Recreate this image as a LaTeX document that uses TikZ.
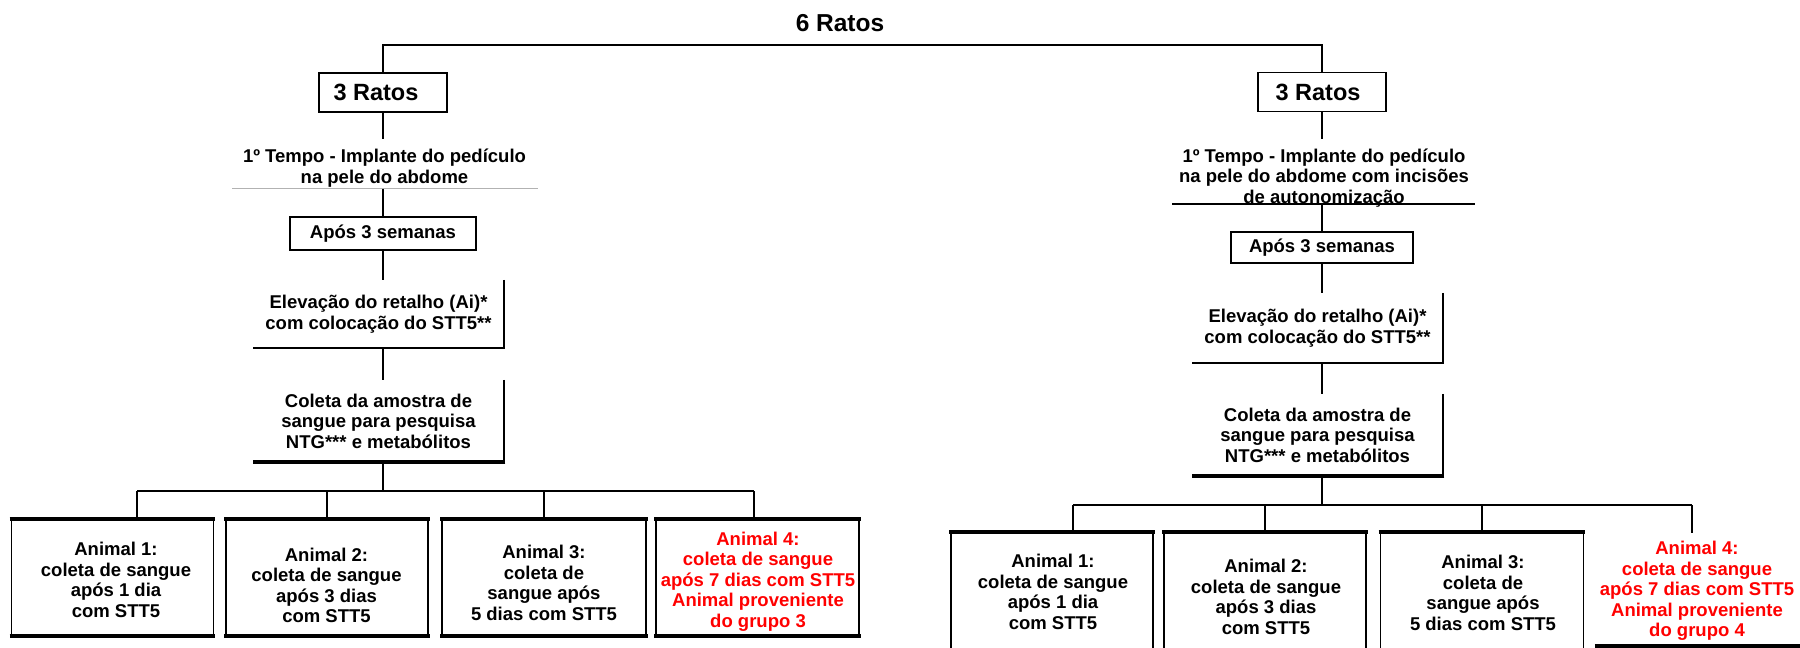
\documentclass[tikz,border=0pt]{standalone}
\usepackage{fontspec}
\setmainfont{Liberation Sans}
\begin{document}
\begin{tikzpicture}[x=1bp,y=-1bp,
  txt/.style={font=\fontsize{18.5bp}{20.5bp}\selectfont\bfseries, inner sep=0pt, align=center},
  big/.style={font=\fontsize{24.5bp}{26bp}\selectfont\bfseries, inner sep=0pt},
  ratbox/.style={draw, line width=1.8bp, inner sep=0pt, minimum width=128bp, minimum height=39bp, font=\fontsize{23.5bp}{25bp}\selectfont\bfseries},
  aposbox/.style={txt, draw, line width=1.8bp},
  shadowframe/.style={txt, minimum width=251bp},
  animbox/.style={draw, line width=1.8bp, minimum width=202bp, minimum height=115bp, inner sep=0pt},
  conn/.style={line width=1.9bp},
  heavy/.style={line width=3.5bp, shorten <=-0.9bp, shorten >=-0.9bp},
  edgetwo/.style={line width=2.2bp},
  redtxt/.style={txt, text=red},
  thinrule/.style={line width=1bp, draw=black!30},
]
\fill[white] (0,0) rectangle (1800,648);
\useasboundingbox (0,0) rectangle (1800,648);

% ---------- top ----------
\node[big] (six) at (840,23) {6 Ratos};
\node[ratbox] (L3) at (383,92.5) {3 Ratos\hspace*{14bp}};
\node[ratbox] (R3) at (1322,92) {3 Ratos\hspace*{8bp}};
\coordinate (topL) at (383,45);
\draw[conn] (L3.north) -- (topL) -| (R3.north);

% ---------- left column ----------
\node[txt] (tempoL) at (384.5,168) {1º Tempo - Implante do pedículo\\na pele do abdome};
\coordinate (gLa) at (232,189);
\coordinate (gLb) at (538,189);
\coordinate (gL) at (383,189);
\draw[thinrule] (gLa) -- (gLb);
\node[aposbox, minimum width=186bp, minimum height=33bp] (aposL) at (383,233.5) {Após 3 semanas};
\node[shadowframe, minimum height=68bp] (elevL) at (378.5,314) {Elevação do retalho (Ai)*\\com colocação do STT5**};
\node[shadowframe, minimum height=82bp] (coletaL) at (378.5,421) {Coleta da amostra de\\sangue para pesquisa\\NTG*** e metabólitos};
\draw[edgetwo] (elevL.north east) -- (elevL.south east) -- (elevL.south west);
\draw[edgetwo] (coletaL.north east) -- (coletaL.south east);
\draw[line width=4bp] ([xshift=1.1bp]coletaL.south east) -- (coletaL.south west);

\draw[conn, shorten >=10bp] (L3.south) -- (L3.south |- tempoL.north);
\draw[conn] (gL) -- (gL |- aposL.north);
\draw[conn] (aposL.south) -- (aposL.south |- elevL.north);
\draw[conn] (aposL.south |- elevL.south) -- (aposL.south |- coletaL.north);
\coordinate (busL) at (383,491);
\draw[conn] (aposL.south |- coletaL.south) -- (busL);

\node[animbox] (b1) at (112.5,577.5) {};
\node[animbox] (b2) at (327,577.5) {};
\node[animbox, minimum width=204bp] (b3) at (544,577.5) {};
\node[animbox, minimum width=203bp] (b4) at (757.5,577.5) {};
\node[txt] (t1) at (116,580) {Animal 1:\\coleta de sangue\\após 1 dia\\com STT5};
\node[txt] (t2) at (326.5,585.5) {Animal 2:\\coleta de sangue\\após 3 dias\\com STT5};
\node[txt] (t3) at (544,583) {Animal 3:\\coleta de\\sangue após\\5 dias com STT5};
\node[redtxt] (t4) at (758,581.5) {Animal 4:\\coleta de sangue\\após 7 dias com STT5\\Animal proveniente\\do grupo 3};

\coordinate (bl1) at (137,491);
\coordinate (bl4) at (754,491);
\draw[conn] (bl1) -- (bl4);
\draw[conn] (bl1) -- (bl1 |- b1.north);
\draw[conn] (b2.north |- busL) -- (b2.north);
\draw[conn] (b3.north |- busL) -- (b3.north);
\draw[conn] (bl4) -- (bl4 |- b4.north);

% ---------- right column ----------
\node[txt] (tempoR) at (1324,178) {1º Tempo - Implante do pedículo\\na pele do abdome com incisões\\de autonomização};
\coordinate (uRa) at (1172,204);
\coordinate (uRb) at (1475,204);
\coordinate (uR) at (1322,204);
\draw[line width=2bp] (uRa) -- (uRb);
\node[aposbox, minimum width=182bp, minimum height=31bp] (aposR) at (1322,247.5) {Após 3 semanas};
\node[shadowframe, minimum height=70bp] (elevR) at (1317.5,328) {Elevação do retalho (Ai)*\\com colocação do STT5**};
\node[shadowframe, minimum height=82bp] (coletaR) at (1317.5,435) {Coleta da amostra de\\sangue para pesquisa\\NTG*** e metabólitos};
\draw[edgetwo] (elevR.north east) -- (elevR.south east) -- (elevR.south west);
\draw[edgetwo] (coletaR.north east) -- (coletaR.south east);
\draw[line width=4bp] ([xshift=1.1bp]coletaR.south east) -- (coletaR.south west);

\draw[conn, shorten >=10bp] (R3.south) -- (R3.south |- tempoR.north);
\draw[conn] (uR) -- (uR |- aposR.north);
\draw[conn] (aposR.south) -- (aposR.south |- elevR.north);
\draw[conn] (aposR.south |- elevR.south) -- (aposR.south |- coletaR.north);
\coordinate (busR) at (1322,505);
\draw[conn] (aposR.south |- coletaR.south) -- (busR);

\node[animbox, minimum height=116bp] (rb1) at (1052,591) {};
\node[animbox, minimum height=116bp] (rb2) at (1265,591) {};
\node[animbox, minimum height=116bp, minimum width=203bp] (rb3) at (1482,591) {};
\node[inner sep=0pt, minimum width=204bp, minimum height=113bp] (r4f) at (1698,589.5) {};
\node[txt] (rt1) at (1053,592) {Animal 1:\\coleta de sangue\\após 1 dia\\com STT5};
\node[txt] (rt2) at (1266,597) {Animal 2:\\coleta de sangue\\após 3 dias\\com STT5};
\node[txt] (rt3) at (1483,593) {Animal 3:\\coleta de\\sangue após\\5 dias com STT5};
\node[redtxt] (rt4) at (1697,591) {Animal 4:\\coleta de sangue\\após 7 dias com STT5\\Animal proveniente\\do grupo 4};
\draw[heavy] (r4f.south west) -- (r4f.south east);

\coordinate (br1) at (1073,505);
\coordinate (br4) at (1692,505);
\draw[conn] (br1) -- (br4);
\draw[conn] (br1) -- (br1 |- rb1.north);
\draw[conn] (rb2.north |- busR) -- (rb2.north);
\draw[conn] (rb3.north |- busR) -- (rb3.north);
\draw[conn] (br4) -- (br4 |- r4f.north);

\foreach \n in {b1,b2,b3,b4,rb1,rb2,rb3} {
  \draw[heavy] (\n.north west) -- (\n.north east);
  \draw[heavy] (\n.south west) -- (\n.south east);
}
\end{tikzpicture}
\end{document}
